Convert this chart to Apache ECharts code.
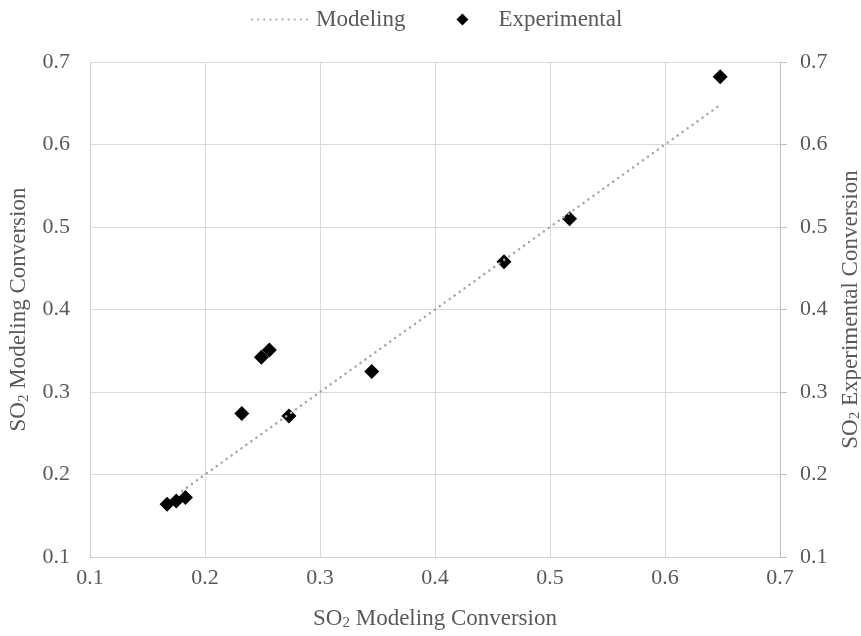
<!DOCTYPE html>
<html>
<head>
<meta charset="utf-8">
<script src="https://cdn.jsdelivr.net/npm/echarts@6/dist/echarts.min.js"></script>
<style>html,body{margin:0;padding:0;background:#fff}#c{width:861px;height:636px}</style>
</head>
<body>
<div id="c"></div>
<script>
// Experimental points: x = SO2 modeling conversion, y = SO2 experimental conversion
const expX = [0.167, 0.175, 0.183, 0.232, 0.249, 0.256, 0.273, 0.345, 0.460, 0.517, 0.648];
const expY = [0.164, 0.168, 0.172, 0.274, 0.342, 0.351, 0.271, 0.325, 0.458, 0.510, 0.682];
// Modeling line (parity)
const modX = [0.180, 0.232, 0.273, 0.345, 0.460, 0.517, 0.646];
const modY = [0.180, 0.232, 0.273, 0.345, 0.460, 0.517, 0.646];
const axisMin = 0.1, axisMax = 0.7, axisStep = 0.1;

const font = '"Liberation Serif", "DejaVu Serif", serif';
const txt = '#595959';
const fs = 22;
const rich = { sub: { fontSize: 15, verticalAlign: 'bottom', padding: [10, 0, 0, 0], color: txt, fontFamily: font } };
const nameStyle = { color: txt, fontSize: 23, fontFamily: font, rich: rich };

const chart = echarts.init(document.getElementById('c'));
chart.setOption({
  animation: false,
  backgroundColor: '#fff',
  legend: {
    top: 3, left: 246, itemGap: 51, itemWidth: 56, itemHeight: 12,
    symbolKeepAspect: true,
    textStyle: { color: txt, fontSize: 23, fontFamily: font, padding: [0, 0, 0, 3] },
    data: [
      { name: 'Modeling', itemStyle: { opacity: 0 } },
      { name: 'Experimental', icon: 'path://M0,-1L1,0L0,1L-1,0Z' }
    ]
  },
  grid: { left: 90, right: 81, top: 62, bottom: 79, outerBoundsMode: 'none', containLabel: false },
  xAxis: {
    type: 'value', min: axisMin, max: axisMax, interval: axisStep,
    name: 'SO{sub|2} Modeling Conversion', nameLocation: 'middle', nameGap: 49,
    nameTextStyle: nameStyle,
    axisLine: { show: true, lineStyle: { color: '#d0d0d0' } },
    axisTick: { show: false },
    axisLabel: { color: txt, fontSize: fs, fontFamily: font, margin: 10, formatter: v => v.toFixed(1) },
    splitLine: { show: true, lineStyle: { color: '#d9d9d9' } }
  },
  yAxis: [{
    type: 'value', min: axisMin, max: axisMax, interval: axisStep, position: 'left',
    name: 'SO{sub|2} Modeling Conversion', nameLocation: 'middle', nameGap: 53, nameRotate: 90,
    nameTextStyle: nameStyle,
    axisLine: { show: true, lineStyle: { color: '#d0d0d0' } },
    axisTick: { show: false },
    axisLabel: { color: txt, fontSize: fs, fontFamily: font, margin: 20, formatter: v => v.toFixed(1) },
    splitLine: { show: true, lineStyle: { color: '#d9d9d9' } }
  }, {
    type: 'value', min: axisMin, max: axisMax, interval: axisStep, position: 'right',
    name: 'SO{sub|2} Experimental Conversion', nameLocation: 'middle', nameGap: 58, nameRotate: 90,
    nameTextStyle: nameStyle,
    axisLine: { show: true, lineStyle: { color: '#bfbfbf' } },
    axisTick: { show: true, inside: false, length: 7, lineStyle: { color: '#bfbfbf' } },
    axisLabel: { color: txt, fontSize: fs, fontFamily: font, margin: 20, formatter: v => v.toFixed(1) },
    splitLine: { show: false }
  }],
  series: [{
    name: 'Modeling', type: 'line', yAxisIndex: 0,
    data: modX.map((x, i) => [x, modY[i]]),
    showSymbol: false, symbol: 'none',
    itemStyle: { color: '#a6a6a6' },
    lineStyle: { color: '#a6a6a6', width: 2.5, type: [0.1, 6], cap: 'round' }
  }, {
    name: 'Experimental', type: 'scatter', yAxisIndex: 1,
    data: expX.map((x, i) => [x, expY[i]]),
    symbol: 'diamond', symbolSize: [15, 15],
    itemStyle: { color: '#000', opacity: 1 }
  }]
});
</script>
</body>
</html>
